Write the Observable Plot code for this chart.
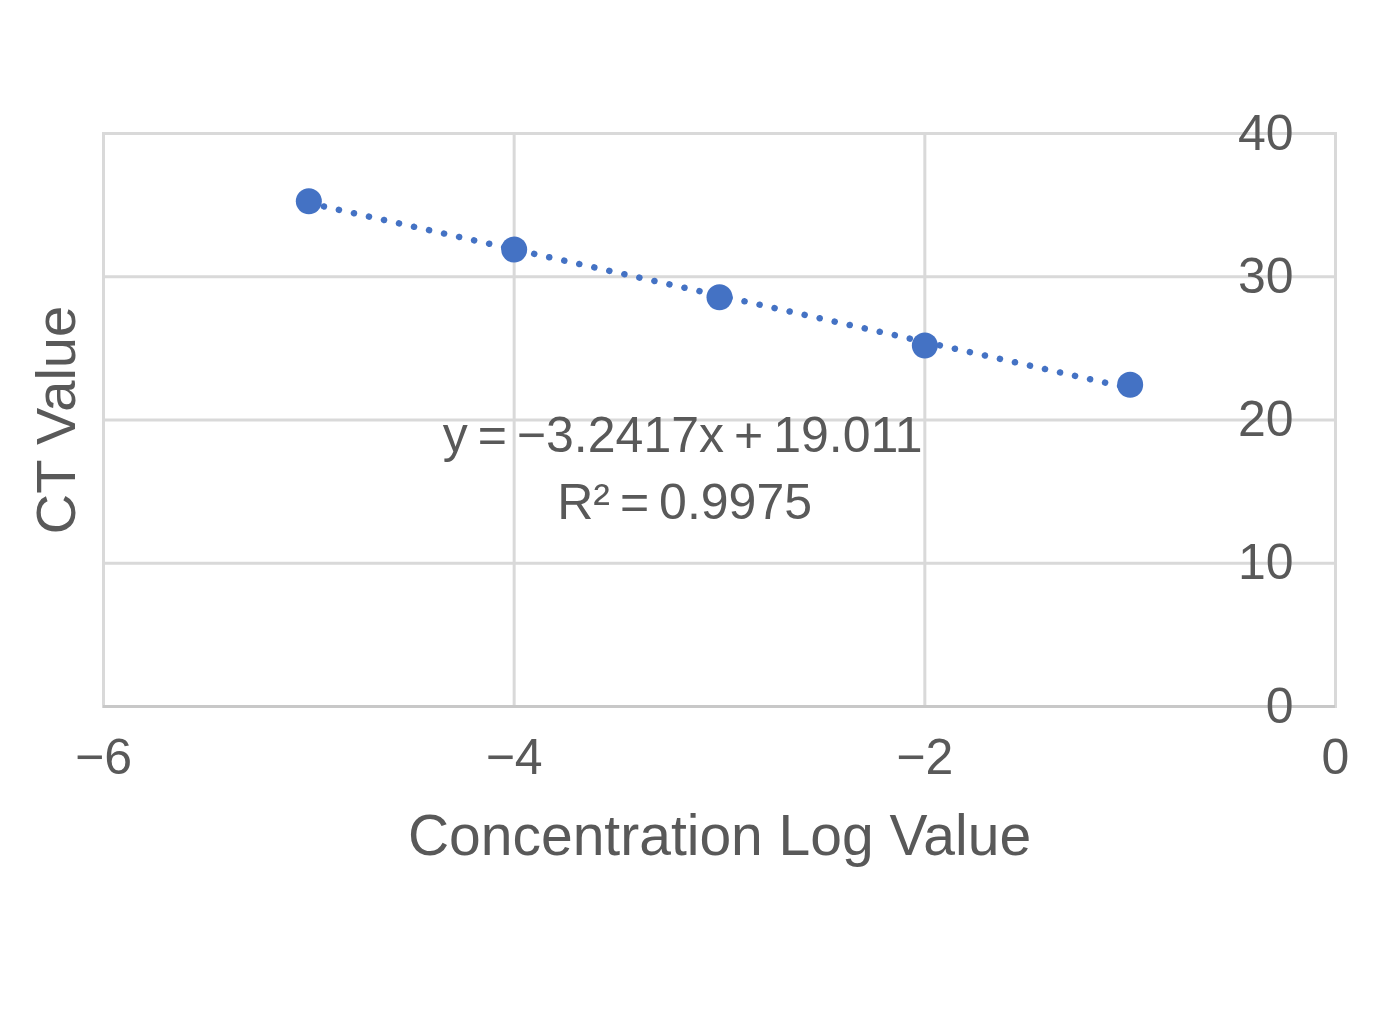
<!DOCTYPE html>
<html>
<head>
<meta charset="utf-8">
<script src="https://cdn.jsdelivr.net/npm/d3@7"></script>
<script src="https://cdn.jsdelivr.net/npm/@observablehq/plot@0.6"></script>
<style>
  html, body { margin: 0; padding: 0; background: #fff; }
  #chart { width: 1380px; height: 1020px; }
</style>
</head>
<body>
<div id="chart"></div>
<script>
// Data
const logConc = [-5, -4, -3, -2, -1];
const ctValues = [35.27, 31.9, 28.57, 25.2, 22.46];
const xTicks = [-6, -4, -2, 0];
const yTicks = [0, 10, 20, 30, 40];
const xTitle = "Concentration Log Value";
const yTitle = "CT Value";
const eqText = "y\u2009=\u2009\u22123.2417x\u2009+\u200919.011";
const r2Text = "R\u00B2\u2009=\u20090.9975";
const eqPos = [{x: -3.18, y: 18.9, t: eqText}, {x: -3.17, y: 14.2, t: r2Text}];

const data = logConc.map((x, i) => ({x, y: ctValues[i]}));

const textColor = "#595959";
const gridColor = "#d9d9d9";
const blue = "#4472C4";

const chart = Plot.plot({
  width: 1380,
  height: 1020,
  marginLeft: 103,
  marginRight: 45,
  marginTop: 133,
  marginBottom: 314,
  style: {fontFamily: "'Liberation Sans', Arial, sans-serif", color: textColor, background: "#fff"},
  x: {domain: [-6, 0], ticks: xTicks, tickFormat: d3.format("d")},
  y: {domain: [0, 40], ticks: yTicks},
  marks: [
    Plot.gridX(xTicks, {stroke: gridColor, strokeOpacity: 1, strokeWidth: 3}),
    Plot.gridY(yTicks, {stroke: gridColor, strokeOpacity: 1, strokeWidth: 3}),
    Plot.frame({stroke: gridColor, strokeWidth: 3}),
    Plot.ruleY([0], {stroke: "#c8c8c8", strokeWidth: 3}),
    Plot.axisX(xTicks, {tickSize: 0, tickPadding: 32, fontSize: 50, fill: textColor, tickFormat: d3.format("d"), label: null}),
    Plot.axisY(yTicks, {anchor: "right", tickSize: 0, tickPadding: 0, dx: -42, textAnchor: "end", fontSize: 50, fill: textColor, label: null}),
    Plot.text([xTitle], {frameAnchor: "bottom", textAnchor: "middle", dy: 148, fontSize: 57, fill: textColor}),
    Plot.text([yTitle], {frameAnchor: "left", textAnchor: "middle", rotate: -90, dx: -46, fontSize: 56, fill: textColor}),
    Plot.linearRegressionY(data, {x: "x", y: "y", ci: 0, stroke: blue, strokeWidth: 6.5, strokeLinecap: "round", strokeDasharray: "0.1 15.3"}),
    Plot.dot(data, {x: "x", y: "y", r: 13, fill: blue, stroke: "none"}),
    Plot.text(eqPos, {x: "x", y: "y", text: "t", fontSize: 50, fill: textColor})
  ]
});
document.getElementById("chart").appendChild(chart);
</script>
</body>
</html>
